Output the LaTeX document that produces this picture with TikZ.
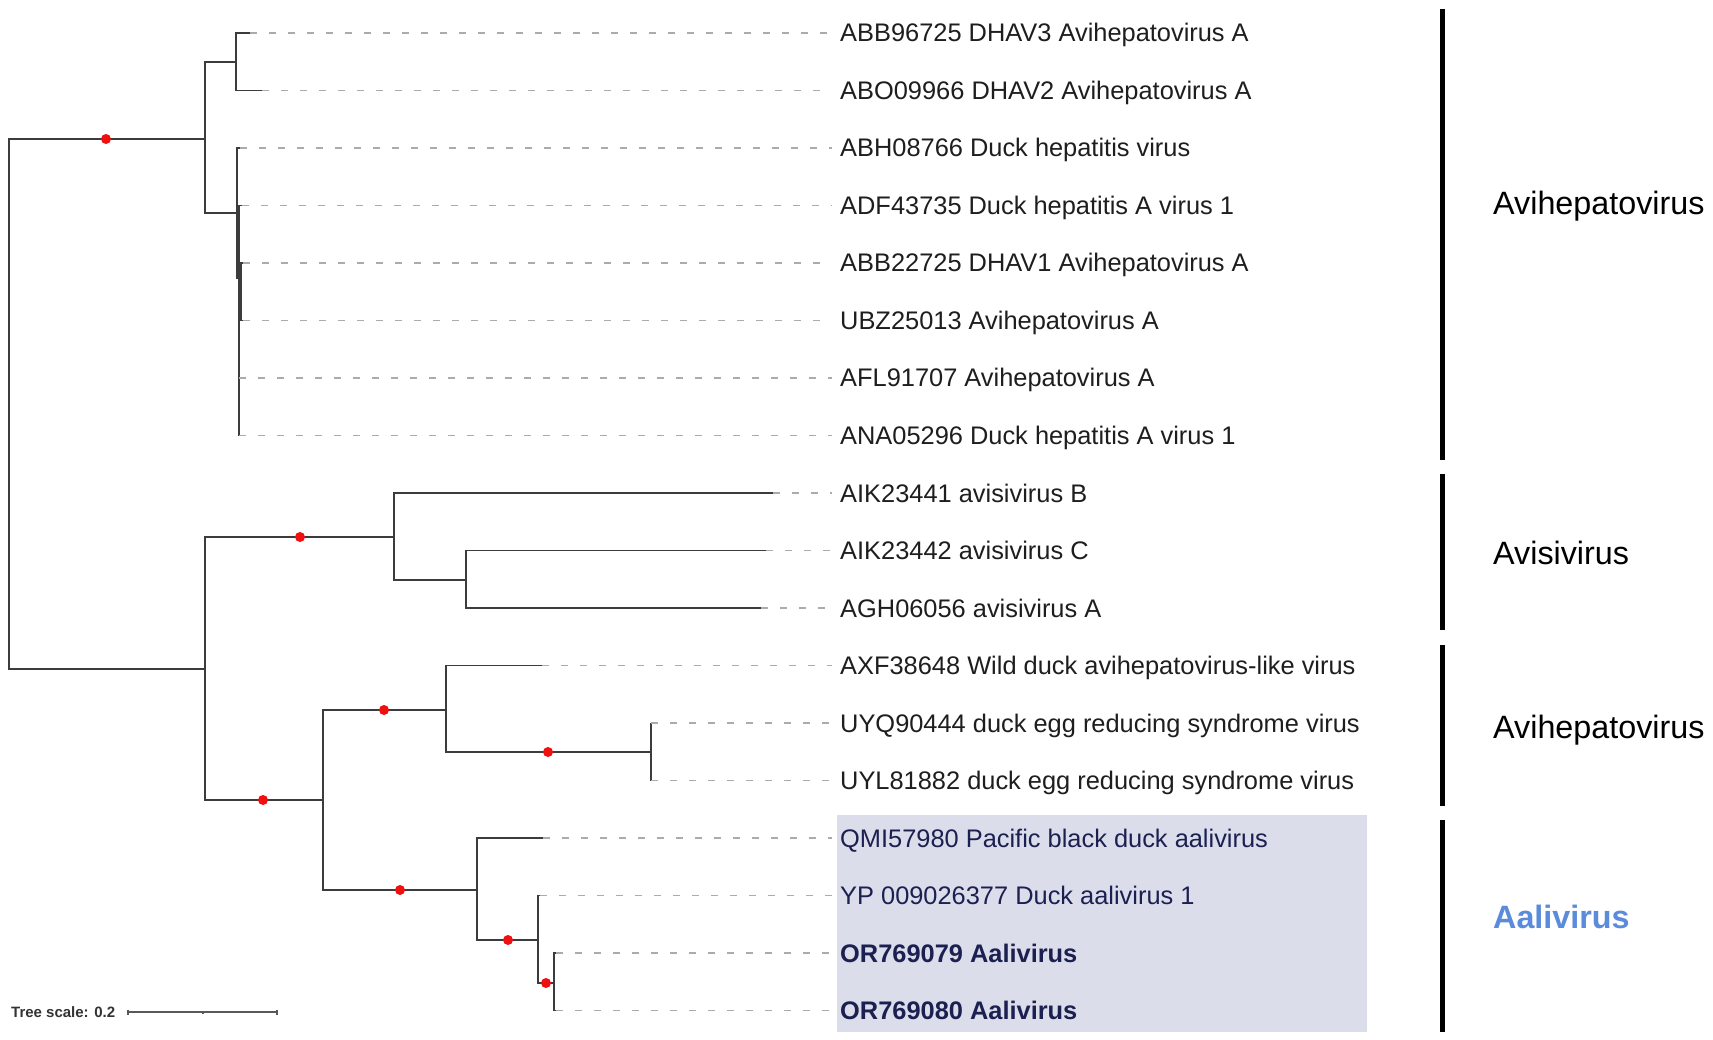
\documentclass[tikz,border=0pt]{standalone}
\usepackage{fontspec}
\setmainfont{Liberation Sans}
\usetikzlibrary{calc}
\definecolor{branch}{HTML}{3C3C3C}
\definecolor{dashgray}{HTML}{ABABAB}
\definecolor{hl}{HTML}{DCDDEB}
\definecolor{navy}{HTML}{1C2050}
\definecolor{labelblack}{HTML}{1E1E1E}
\definecolor{aaliblue}{HTML}{5B8BDB}
\definecolor{dotred}{HTML}{F01010}
\begin{document}
\begin{tikzpicture}[x=1pt,y=-1pt,
  branchline/.style={draw=branch, line width=1.7pt},
  leafdash/.style={draw=dashgray, line width=1.3pt, dash pattern=on 7pt off 12pt},
  leaflabel/.style={anchor=base west, inner sep=0pt, font=\fontsize{25.4}{30}\selectfont, text=labelblack},
  hllabel/.style={leaflabel, text=navy},
  hlbold/.style={leaflabel, text=navy, font=\fontsize{25.4}{30}\selectfont\bfseries},
  cladebar/.style={line width=5pt, draw=black},
  cladelabel/.style={anchor=base west, inner sep=0pt, font=\fontsize{32.3}{38}\selectfont, text=black},
  support/.style={circle, fill=dotred, inner sep=0pt, minimum size=10pt},
  scaleline/.style={draw=black!65, line width=1.3pt}
]
\fill[white] (0,0) rectangle (1713,1040);
\useasboundingbox (0,0) rectangle (1713,1040);

% highlight box
\fill[hl] (837,815) rectangle (1367,1032);

% internal nodes
\coordinate (R) at (9,404);
\coordinate (U) at (205,139);
\coordinate (L) at (205,669);
\coordinate (U1) at (236,62);
\coordinate (U2) at (237,213);
\coordinate (U3) at (239,278);
\coordinate (U4) at (241,292);
\coordinate (A) at (394,537);
\coordinate (A2) at (466,580);
\coordinate (M) at (323,800);
\coordinate (H) at (446,710);
\coordinate (H2) at (651,752);
\coordinate (Q) at (477,890);
\coordinate (Q2) at (538,940);
\coordinate (Q3) at (554,983);

% leaf ends
\coordinate (e0) at (250,33);
\coordinate (e1) at (262,90.5);
\coordinate (e2) at (240,148);
\coordinate (e3) at (242,205.5);
\coordinate (e4) at (243,263);
\coordinate (e5) at (243,320.5);
\coordinate (e6) at (239,378);
\coordinate (e7) at (239,435.5);
\coordinate (e8) at (773,493);
\coordinate (e9) at (766,550.5);
\coordinate (e10) at (761,608);
\coordinate (e11) at (542,665.5);
\coordinate (e12) at (651,723);
\coordinate (e13) at (651,780.5);
\coordinate (e14) at (543,838);
\coordinate (e15) at (540,895.5);
\coordinate (e16) at (556,953);
\coordinate (e17) at (556,1010.5);
\coordinate (dashend) at (832,0);

% branches
\draw[branchline] (R) |- (U);
\draw[branchline] (R) |- (L);
\draw[branchline] (U) |- (U1);
\draw[branchline] (U) |- (U2);
\draw[branchline] (U1) |- (e0);
\draw[branchline] (U1) |- (e1);
\draw[branchline] (U2) |- (e2);
\draw[branchline] (U2) |- (U3);
\draw[branchline] (U3) |- (e3);
\draw[branchline] (U3) |- (U4);
\draw[branchline] (U3) |- (e6);
\draw[branchline] (U3) |- (e7);
\draw[branchline] (U4) |- (e4);
\draw[branchline] (U4) |- (e5);
\draw[branchline] (L) |- (A);
\draw[branchline] (L) |- (M);
\draw[branchline] (A) |- (e8);
\draw[branchline] (A) |- (A2);
\draw[branchline] (A2) |- (e9);
\draw[branchline] (A2) |- (e10);
\draw[branchline] (M) |- (H);
\draw[branchline] (M) |- (Q);
\draw[branchline] (H) |- (e11);
\draw[branchline] (H) |- (H2);
\draw[branchline] (H2) |- (e12);
\draw[branchline] (H2) |- (e13);
\draw[branchline] (Q) |- (e14);
\draw[branchline] (Q) |- (Q2);
\draw[branchline] (Q2) |- (e15);
\draw[branchline] (Q2) |- (Q3);
\draw[branchline] (Q3) |- (e16);
\draw[branchline] (Q3) |- (e17);

% dashed leaf connectors
\foreach \i in {0,...,17}{
  \draw[leafdash] (e\i) -- (e\i -| dashend);
}

% support dots
\node[support] (s1) at (106,139) {};
\node[support] (s2) at (300,537) {};
\node[support] (s3) at (263,800) {};
\node[support] (s4) at (384,710) {};
\node[support] (s5) at (548,752) {};
\node[support] (s6) at (400,890) {};
\node[support] (s7) at (508,940) {};
\node[support] (s8) at (546,983) {};

% leaf labels
\node[leaflabel] (t0) at (840,42) {ABB96725 DHAV3 Avihepatovirus A};
\node[leaflabel] (t1) at (840,99.5) {ABO09966 DHAV2 Avihepatovirus A};
\node[leaflabel] (t2) at (840,157) {ABH08766 Duck hepatitis virus};
\node[leaflabel] (t3) at (840,214.5) {ADF43735 Duck hepatitis A virus 1};
\node[leaflabel] (t4) at (840,272) {ABB22725 DHAV1 Avihepatovirus A};
\node[leaflabel] (t5) at (840,329.5) {UBZ25013 Avihepatovirus A};
\node[leaflabel] (t6) at (840,387) {AFL91707 Avihepatovirus A};
\node[leaflabel] (t7) at (840,444.5) {ANA05296 Duck hepatitis A virus 1};
\node[leaflabel] (t8) at (840,502) {AIK23441 avisivirus B};
\node[leaflabel] (t9) at (840,559.5) {AIK23442 avisivirus C};
\node[leaflabel] (t10) at (840,617) {AGH06056 avisivirus A};
\node[leaflabel] (t11) at (840,674.5) {AXF38648 Wild duck avihepatovirus-like virus};
\node[leaflabel] (t12) at (840,732) {UYQ90444 duck egg reducing syndrome virus};
\node[leaflabel] (t13) at (840,789.5) {UYL81882 duck egg reducing syndrome virus};
\node[hllabel] (t14) at (840,847) {QMI57980 Pacific black duck aalivirus};
\node[hllabel] (t15) at (840,904.5) {YP 009026377 Duck aalivirus 1};
\node[hlbold] (t16) at (840,962) {OR769079 Aalivirus};
\node[hlbold] (t17) at (840,1019.5) {OR769080 Aalivirus};

% clade bars
\coordinate (b1s) at (1442,9);   \coordinate (b1e) at (1442,460);
\coordinate (b2s) at (1442,474); \coordinate (b2e) at (1442,630);
\coordinate (b3s) at (1442,645); \coordinate (b3e) at (1442,806);
\coordinate (b4s) at (1442,820); \coordinate (b4e) at (1442,1032);
\draw[cladebar] (b1s) -- (b1e);
\draw[cladebar] (b2s) -- (b2e);
\draw[cladebar] (b3s) -- (b3e);
\draw[cladebar] (b4s) -- (b4e);

% clade labels
\node[cladelabel] (c1) at (1493,215) {Avihepatovirus};
\node[cladelabel] (c2) at (1493,564) {Avisivirus};
\node[cladelabel] (c3) at (1493,738) {Avihepatovirus};
\node[cladelabel, text=aaliblue, font=\fontsize{32.3}{38}\selectfont\bfseries] (c4) at (1493,928) {Aalivirus};

% scale bar
\node[anchor=base west, inner sep=0pt, font=\fontsize{15}{18}\selectfont\bfseries, text=black!80] (scaletxt) at (11,1017) {Tree scale: 0.2};
\coordinate (sb0) at (128,1012);
\coordinate (sb1) at (277,1012);
\coordinate (sbm) at (203,1012);
\draw[scaleline] (sb0) -- (sb1);
\draw[scaleline] ($(sb0)+(0,-2.5)$) -- ($(sb0)+(0,2.5)$);
\draw[scaleline] ($(sb1)+(0,-2.5)$) -- ($(sb1)+(0,2.5)$);
\draw[scaleline] (sbm) -- ($(sbm)+(0,2)$);
\end{tikzpicture}
\end{document}
